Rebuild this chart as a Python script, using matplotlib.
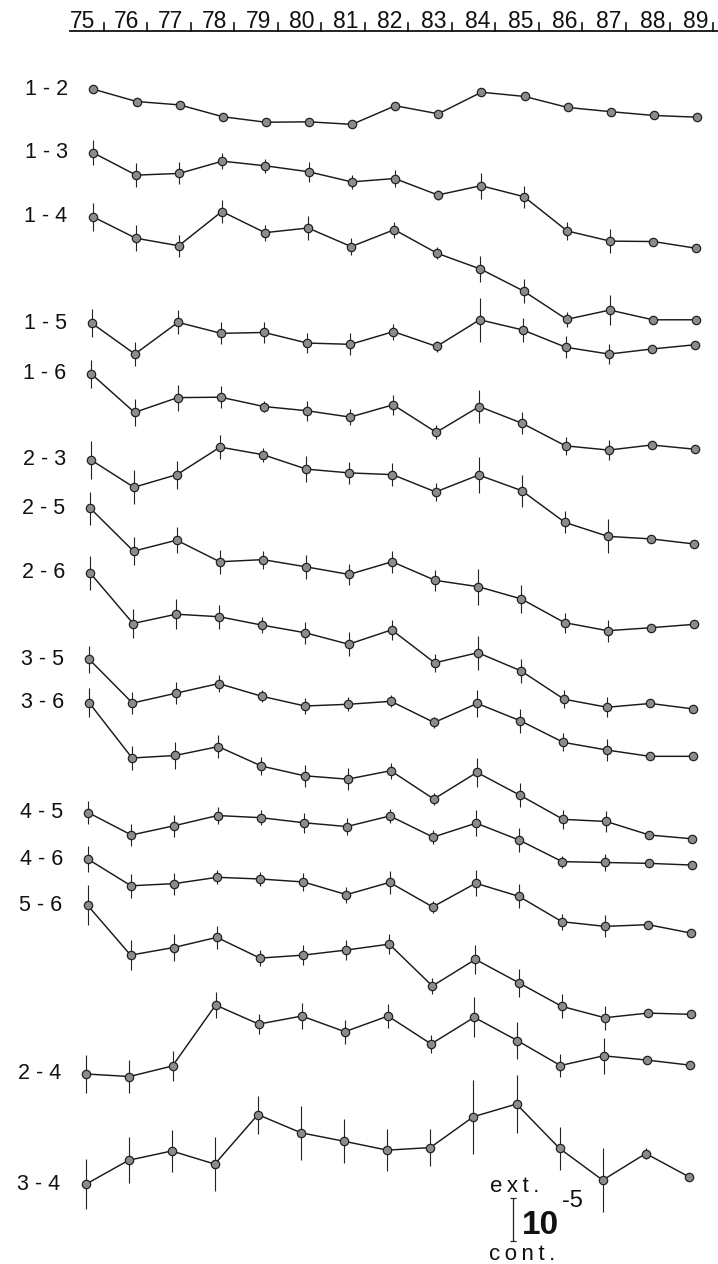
import numpy as np
import matplotlib.pyplot as plt

years = np.arange(75, 90)

# yearly ext./cont. ratio of each line pair, in units of 1e-5, relative to 1975
d12 = [0, -0.29, -0.37, -0.65, -0.78, -0.77, -0.83, -0.39, -0.58, -0.07, -0.17, -0.43, -0.53, -0.62, -0.66]
e12 = [0] * 15
d13 = [0, -0.53, -0.49, -0.20, -0.31, -0.45, -0.69, -0.61, -1.00, -0.78, -1.04, -1.85, -2.09, -2.10, -2.26]
e13 = [0.30, 0.28, 0.26, 0.19, 0.17, 0.24, 0.17, 0.19, 0.12, 0.31, 0.26, 0.21, 0.28, 0.07, 0]
d14 = [0, -0.51, -0.69, 0.12, -0.38, -0.27, -0.71, -0.31, -0.87, -1.24, -1.76, -2.43, -2.21, -2.44, -2.44]
e14 = [0.33, 0.31, 0.26, 0.28, 0.19, 0.28, 0.21, 0.19, 0.14, 0.31, 0.28, 0.17, 0.35, 0, 0]
d15 = [0, -0.73, 0.02, -0.24, -0.22, -0.47, -0.50, -0.20, -0.55, 0.08, -0.16, -0.57, -0.73, -0.61, -0.51]
e15 = [0.33, 0.28, 0.28, 0.26, 0.24, 0.24, 0.26, 0.19, 0.12, 0.52, 0.28, 0.26, 0.24, 0, 0]
d16 = [0, -0.91, -0.56, -0.55, -0.77, -0.87, -1.02, -0.73, -1.38, -0.77, -1.17, -1.70, -1.80, -1.68, -1.78]
e16 = [0.33, 0.31, 0.31, 0.26, 0.12, 0.24, 0.19, 0.24, 0.17, 0.38, 0.26, 0.21, 0.24, 0, 0]
d23 = [0, -0.65, -0.35, 0.30, 0.12, -0.22, -0.31, -0.35, -0.76, -0.36, -0.73, -1.48, -1.81, -1.87, -1.99]
e23 = [0.45, 0.40, 0.33, 0.28, 0.17, 0.31, 0.26, 0.28, 0.21, 0.43, 0.38, 0.26, 0.40, 0, 0]
d25 = [0, -1.01, -0.75, -1.26, -1.21, -1.38, -1.56, -1.26, -1.70, -1.85, -2.14, -2.70, -2.89, -2.82, -2.74]
e25 = [0.40, 0.33, 0.31, 0.28, 0.21, 0.28, 0.24, 0.26, 0.24, 0.43, 0.33, 0.24, 0.26, 0, 0]
d26 = [0, -1.20, -0.98, -1.04, -1.24, -1.42, -1.69, -1.35, -2.13, -1.89, -2.32, -2.99, -3.18, -3.09, -3.22]
e26 = [0.40, 0.35, 0.35, 0.28, 0.19, 0.26, 0.28, 0.24, 0.21, 0.40, 0.28, 0.21, 0.24, 0, 0]
d35 = [0, -1.03, -0.80, -0.57, -0.87, -1.10, -1.06, -0.99, -1.49, -1.04, -1.45, -1.96, -2.14, -2.29, -2.29]
e35 = [0.31, 0.26, 0.26, 0.21, 0.14, 0.19, 0.17, 0.14, 0.12, 0.31, 0.28, 0.21, 0.26, 0, 0]
d36 = [0, -1.31, -1.25, -1.04, -1.50, -1.73, -1.81, -1.61, -2.28, -1.65, -2.19, -2.76, -2.81, -3.13, -3.22]
e36 = [0.35, 0.28, 0.33, 0.28, 0.21, 0.26, 0.26, 0.19, 0.14, 0.35, 0.28, 0.22, 0.24, 0, 0]
d45 = [0, -0.53, -0.31, -0.07, -0.12, -0.24, -0.33, -0.08, -0.58, -0.25, -0.65, -1.16, -1.18, -1.20, -1.24]
e45 = [0.28, 0.26, 0.26, 0.21, 0.17, 0.24, 0.21, 0.17, 0.17, 0.31, 0.28, 0.14, 0.19, 0, 0]
d46 = [0, -0.63, -0.58, -0.43, -0.47, -0.54, -0.84, -0.55, -1.13, -0.57, -0.88, -1.48, -1.59, -1.55, -1.75]
e46 = [0.31, 0.28, 0.26, 0.17, 0.17, 0.21, 0.19, 0.28, 0.14, 0.31, 0.28, 0.19, 0.26, 0, 0]
d56 = [0, -1.18, -1.00, -0.76, -1.25, -1.18, -1.06, -0.92, -1.91, -1.28, -1.83, -2.39, -2.66, -2.55, -2.58]
e56 = [0.47, 0.35, 0.33, 0.28, 0.19, 0.24, 0.24, 0.24, 0.19, 0.35, 0.33, 0.28, 0.28, 0, 0]
d24 = [0, -0.06, 0.19, 1.63, 1.18, 1.37, 1.00, 1.37, 0.71, 1.34, 0.79, 0.20, 0.43, 0.33, 0.21]
e24 = [0.45, 0.40, 0.35, 0.31, 0.24, 0.31, 0.28, 0.28, 0.21, 0.47, 0.43, 0.28, 0.43, 0, 0]
d34 = [0, 0.57, 0.79, 0.48, 1.65, 1.22, 1.02, 0.81, 0.87, 1.60, 1.90, 0.85, 0.10, 0.73, 0.18]
e34 = [0.59, 0.54, 0.50, 0.64, 0.45, 0.64, 0.52, 0.50, 0.43, 0.87, 0.69, 0.50, 0.76, 0.12, 0]

names = ['1-2', '1-3', '1-4', '1-5', '1-6', '2-3', '2-5', '2-6',
         '3-5', '3-6', '4-5', '4-6', '5-6', '2-4', '3-4']
curves = [d12, d13, d14, d15, d16, d23, d25, d26, d35, d36, d45, d46, d56, d24, d34]
errors = [e12, e13, e14, e15, e16, e23, e25, e26, e35, e36, e45, e46, e56, e24, e34]

# where each curve is stacked (depth of its 1975 point below the top, 1e-5 units)
rows = [2.11, 3.61, 5.12, 7.64, 8.84, 10.87, 12.02, 13.54,
        15.59, 16.61, 19.21, 20.31, 21.40, 25.39, 28.00]

W, H = 718, 1264
XPX, X0PX = 43.1, 93.5      # pixels per year, pixel of 1975
YPX = 42.3                  # pixels per 1e-5


def px_x(px):
    return 75 + (px - X0PX) / XPX


def px_y(py):
    return -py / YPX


fig = plt.figure(figsize=(W / 100, H / 100), dpi=100)
ax = fig.add_axes([0, 0, 1, 1])
ax.set_xlim(px_x(0), px_x(W))
ax.set_ylim(px_y(H), 0)
ax.axis('off')

font = ['Liberation Sans', 'DejaVu Sans']

for name, d, e, row in zip(names, curves, errors, rows):
    # lower curves sit a little further left on the page
    shift = -8 * (row - rows[0]) / (rows[-1] - rows[0]) / XPX
    x = years + shift
    y = -row + np.array(d)
    ax.errorbar(x, y, yerr=e, fmt='none', ecolor='#222222', elinewidth=0.8, capsize=0, zorder=1)
    ax.plot(x, y, color='#1a1a1a', lw=1.05, marker='o', ms=6, mfc='#8c8c8c',
            mec='#222222', mew=0.9, zorder=2)
    ax.text(x[0] - 25 / XPX, -row, name.replace('-', ' - '), ha='right', va='center',
            fontsize=15.5, family=font, color='#111111')

# year header
ax.plot([px_x(70), px_x(W)], [px_y(31), px_y(31)], color='#111111', lw=1.3)
for i, yr in enumerate(years):
    sx = px_x(103.5 + i * 43.54)
    ax.plot([sx, sx], [px_y(23), px_y(31)], color='#111111', lw=1.2)
    ax.text(px_x(83 + i * 43.8), px_y(27.5), str(yr), ha='center', va='baseline',
            fontsize=16.5, family=font, color='#111111')

# scale bar: 1e-5 in ext./cont.
ax.errorbar([px_x(513)], [px_y(1219.5)], yerr=[0.5], fmt='none', ecolor='#222222',
            elinewidth=0.9, capsize=2.5, capthick=0.9)
ax.text(px_x(490), px_y(1192), 'e\u2009x\u2009t\u2009.', ha='left', va='baseline',
        fontsize=16, family=font, color='#111111')
ax.text(px_x(489), px_y(1260), 'c\u2009o\u2009n\u2009t\u2009.', ha='left', va='baseline',
        fontsize=16, family=font, color='#111111')
ax.text(px_x(522), px_y(1234), '10', ha='left', va='baseline', fontsize=24,
        fontweight='bold', family=font, color='#111111')
ax.text(px_x(562), px_y(1207), '-5', ha='left', va='baseline', fontsize=17,
        family=font, color='#111111')

fig.savefig('out.png', dpi=100, facecolor='white')
